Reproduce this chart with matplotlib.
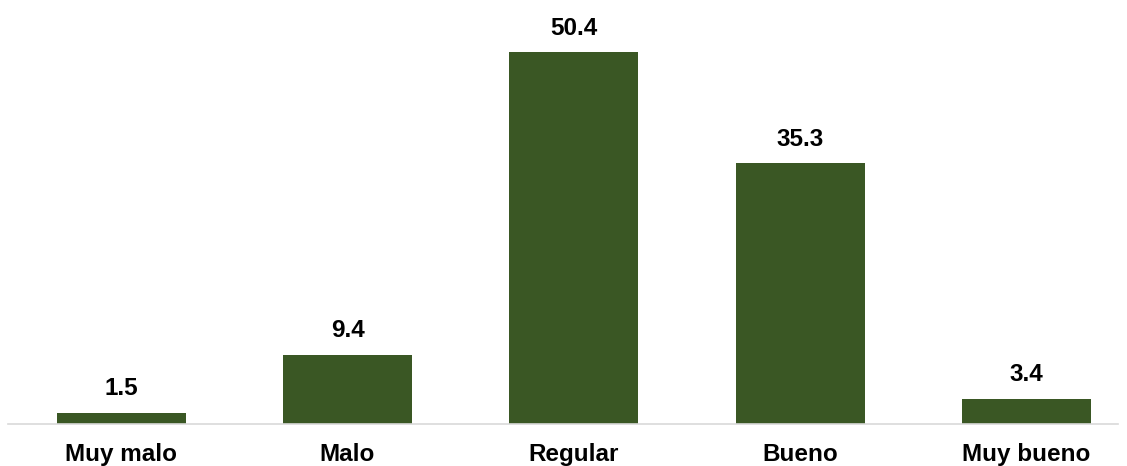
import matplotlib.pyplot as plt

categories = ["Muy malo", "Malo", "Regular", "Bueno", "Muy bueno"]
values = [1.5, 9.4, 50.4, 35.3, 3.4]

plt.rcParams['font.family'] = ['Liberation Sans', 'DejaVu Sans']

fig = plt.figure(figsize=(11.27, 4.66), dpi=100)
ax = fig.add_axes([8 / 1127, 42 / 466, 1110 / 1127, 424 / 466])

x = range(len(categories))
ax.bar(x, values, width=0.57, color="#3a5724")

for i, v in enumerate(values):
    ax.annotate(f"{v:.1f}", (i, v), xytext=(0, 9), textcoords="offset points",
                ha="center", va="bottom", fontsize=17.5, fontweight="bold")

ax.set_xlim(-0.5, 4.404)
ax.set_ylim(0, 57.45)
ax.set_xticks(list(x))
ax.set_xticklabels(categories, fontsize=17.5, fontweight="bold")
ax.tick_params(axis="x", length=0, pad=14)
ax.set_yticks([])
for s in ["top", "right", "left"]:
    ax.spines[s].set_visible(False)
ax.spines["bottom"].set_color("#d9d9d9")
ax.spines["bottom"].set_linewidth(1.2)

fig.savefig("out.png", dpi=100)
